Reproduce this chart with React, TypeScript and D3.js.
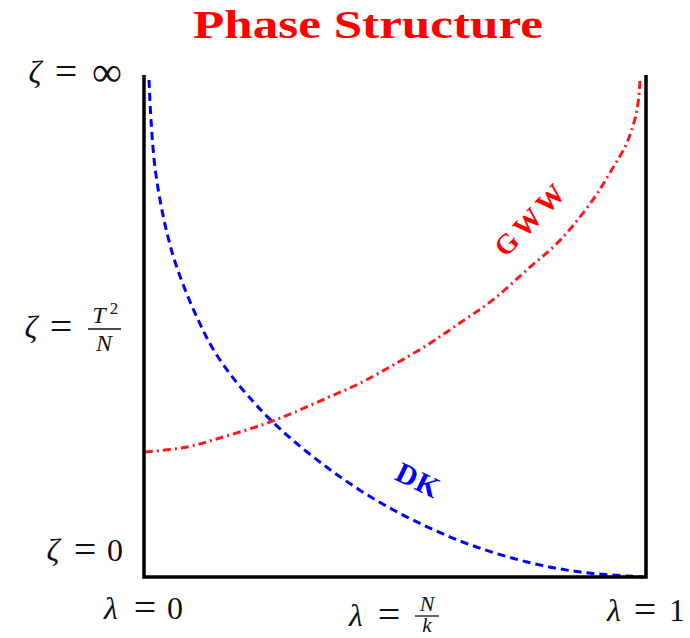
import React from "react";
import * as d3 from "d3";

// Phase boundary curves (lambda in [0,1], zeta normalised to [0,1] where 1 = infinity)
const dkLambda = [0.01, 0.014, 0.022, 0.038, 0.058, 0.082, 0.108, 0.137, 0.177, 0.217, 0.247, 0.297, 0.365, 0.43, 0.496, 0.564, 0.629, 0.695, 0.763, 0.829, 0.894, 0.962, 0.994];
const dkZeta = [0.99, 0.91, 0.815, 0.72, 0.64, 0.572, 0.512, 0.455, 0.397, 0.35, 0.318, 0.272, 0.218, 0.173, 0.134, 0.1, 0.072, 0.049, 0.03, 0.016, 0.007, 0.002, 0.0];

const gwwLambda = [0.002, 0.086, 0.151, 0.217, 0.257, 0.297, 0.365, 0.43, 0.496, 0.564, 0.629, 0.695, 0.763, 0.829, 0.894, 0.928, 0.962, 0.982, 0.988];
const gwwZeta = [0.249, 0.259, 0.277, 0.297, 0.311, 0.327, 0.357, 0.386, 0.422, 0.462, 0.506, 0.552, 0.612, 0.671, 0.751, 0.805, 0.865, 0.93, 0.99];

const W = 690;
const H = 638;
const x = d3.scaleLinear().domain([0, 1]).range([144, 646]);
const y = d3.scaleLinear().domain([0, 1]).range([577, 75]);

const line = d3
  .line<[number, number]>()
  .x((d) => x(d[0]))
  .y((d) => y(d[1]))
  .curve(d3.curveCatmullRom);

const dkPath = line(dkLambda.map((l, i) => [l, dkZeta[i]] as [number, number])) || "";
const gwwPath = line(gwwLambda.map((l, i) => [l, gwwZeta[i]] as [number, number])) || "";

const FONT = "'Liberation Serif', 'Times New Roman', serif";
const FS = 32;

function Sym({ cx, cy, children, italic = false, size = FS }: any) {
  return (
    <text
      x={cx}
      y={cy + size * 0.25}
      textAnchor="middle"
      fontFamily={FONT}
      fontSize={size}
      fontStyle={italic ? "italic" : "normal"}
      fill="#111"
    >
      {children}
    </text>
  );
}

function Eq({ cx, cy }: any) {
  return <Sym cx={cx} cy={cy} size={40}>=</Sym>;
}

export default function App() {
  return (
    <svg
      width={W}
      height={H}
      style={{ position: "absolute", left: 0, top: 0, background: "#fff" }}
    >
      <rect x={0} y={0} width={W} height={H} fill="#fff" />
      {/* Title */}
      <text
        x={368}
        y={38}
        textAnchor="middle"
        fontFamily={FONT}
        fontWeight="bold"
        fontSize={39}
        fill="#ff0000"
        textLength={350}
        lengthAdjust="spacingAndGlyphs"
      >
        Phase Structure
      </text>

      {/* Curves */}
      <path d={dkPath} fill="none" stroke="#0000ff" strokeWidth={3} strokeDasharray="8 5" />
      <path d={gwwPath} fill="none" stroke="#ff1a1a" strokeWidth={3} strokeDasharray="8 4 2 4" />

      {/* Frame */}
      <path
        d={`M${x(0)},${y(1)} L${x(0)},${y(0)} L${x(1)},${y(0)} L${x(1)},${y(1)}`}
        fill="none"
        stroke="#000"
        strokeWidth={3.5}
      />

      {/* Curve labels */}
      <text
        transform={`translate(414,489) rotate(26)`}
        textAnchor="middle"
        fontFamily={FONT}
        fontWeight="bold"
        fontSize={29}
        fill="#0000ff"
        letterSpacing={1}
      >
        DK
      </text>
      <text
        transform={`translate(538,225) rotate(-46)`}
        textAnchor="middle"
        fontFamily={FONT}
        fontWeight="bold"
        fontSize={28}
        fill="#ff0000"
        letterSpacing={5}
      >
        GWW
      </text>

      {/* zeta = infinity */}
      <Sym cx={35} cy={75} italic>ζ</Sym>
      <Eq cx={66} cy={75} />
      <Sym cx={107} cy={75} size={42}>∞</Sym>

      {/* zeta = T^2/N */}
      <Sym cx={31} cy={330} italic>ζ</Sym>
      <Eq cx={61} cy={330} />
      <text x={99} y={323} textAnchor="middle" fontFamily={FONT} fontSize={24} fontStyle="italic" fill="#111">T</text>
      <text x={114} y={314} textAnchor="middle" fontFamily={FONT} fontSize={17} fill="#111">2</text>
      <line x1={88} x2={121} y1={329} y2={329} stroke="#111" strokeWidth={1.3} />
      <text x={104} y={351} textAnchor="middle" fontFamily={FONT} fontSize={24} fontStyle="italic" fill="#111">N</text>

      {/* zeta = 0 */}
      <Sym cx={53} cy={553} italic>ζ</Sym>
      <Eq cx={85} cy={553} />
      <Sym cx={115} cy={553}>0</Sym>

      {/* lambda = 0 */}
      <Sym cx={111} cy={611} italic>λ</Sym>
      <Eq cx={145} cy={611} />
      <Sym cx={175} cy={611}>0</Sym>

      {/* lambda = N/k */}
      <Sym cx={356} cy={618} italic>λ</Sym>
      <Eq cx={389} cy={618} />
      <text x={427} y={611} textAnchor="middle" fontFamily={FONT} fontSize={22} fontStyle="italic" fill="#111">N</text>
      <line x1={415} x2={439} y1={616} y2={616} stroke="#111" strokeWidth={1.3} />
      <text x={427} y={632} textAnchor="middle" fontFamily={FONT} fontSize={21} fontStyle="italic" fill="#111">k</text>

      {/* lambda = 1 */}
      <Sym cx={614} cy={613} italic>λ</Sym>
      <Eq cx={645} cy={613} />
      <Sym cx={677} cy={613}>1</Sym>
    </svg>
  );
}
